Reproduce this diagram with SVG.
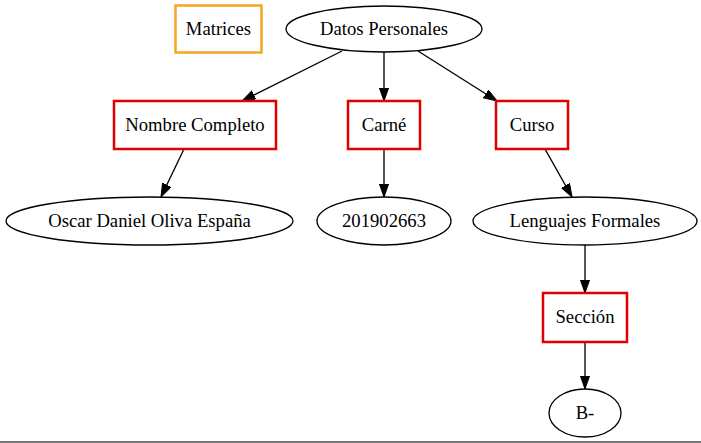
<svg xmlns="http://www.w3.org/2000/svg" width="701" height="443" viewBox="0 0 701 443">
<style>
text{font-family:"Liberation Serif","Times New Roman",serif;font-size:18.67px;fill:#000;text-anchor:middle}
.el{fill:#fff;stroke:#000;stroke-width:1.33}
.box{fill:#fff;stroke:#e00000;stroke-width:2.5}
.org{fill:#fff;stroke:#f5a623;stroke-width:2.5}
.edge{stroke:#000;stroke-width:1.33;fill:none;marker-end:url(#arr)}
</style>
<defs>
<marker id="arr" markerUnits="userSpaceOnUse" markerWidth="14" markerHeight="10" refX="13.3" refY="4.67" orient="auto">
<path d="M0,0 L13.3,4.67 L0,9.33 z" fill="#000" stroke="#000" stroke-width="1"/>
</marker>
</defs>
<rect width="701" height="443" fill="#fff"/>
<g id="edges">
<line class="edge" x1="342" y1="51" x2="242" y2="101"/>
<line class="edge" x1="384" y1="52" x2="384" y2="101"/>
<line class="edge" x1="418" y1="51" x2="497" y2="101"/>
<line class="edge" x1="184" y1="149" x2="161" y2="197"/>
<line class="edge" x1="384" y1="149" x2="384" y2="197"/>
<line class="edge" x1="545" y1="149" x2="572" y2="197"/>
<line class="edge" x1="585" y1="245" x2="585" y2="293"/>
<line class="edge" x1="585" y1="342" x2="585" y2="389"/>
</g>
<g id="matrices"><rect class="org" x="175.5" y="5.5" width="86" height="47"/><text x="218.5" y="35">Matrices</text></g>
<g id="datos"><ellipse class="el" cx="384" cy="29" rx="98" ry="23"/><text x="384" y="35">Datos Personales</text></g>
<g id="nombre"><rect class="box" x="114" y="101" width="162" height="48"/><text x="195" y="131">Nombre Completo</text></g>
<g id="carne"><rect class="box" x="348" y="101" width="72" height="48"/><text x="384" y="131">Carné</text></g>
<g id="curso"><rect class="box" x="496" y="101" width="72" height="48"/><text x="532" y="131">Curso</text></g>
<g id="oscar"><ellipse class="el" cx="149.5" cy="221" rx="143.5" ry="24"/><text x="149.5" y="227">Oscar Daniel Oliva España</text></g>
<g id="carnet"><ellipse class="el" cx="384" cy="221" rx="67" ry="24"/><text x="384" y="227">201902663</text></g>
<g id="lenguajes"><ellipse class="el" cx="585" cy="221" rx="112" ry="24"/><text x="585" y="227">Lenguajes Formales</text></g>
<g id="seccion"><rect class="box" x="543" y="293" width="84" height="49"/><text x="585" y="323">Sección</text></g>
<g id="b"><ellipse class="el" cx="585" cy="413" rx="36" ry="24"/><text x="585" y="419">B-</text></g>
<line x1="0" y1="442" x2="701" y2="442" stroke="#777" stroke-width="2"/>
</svg>
